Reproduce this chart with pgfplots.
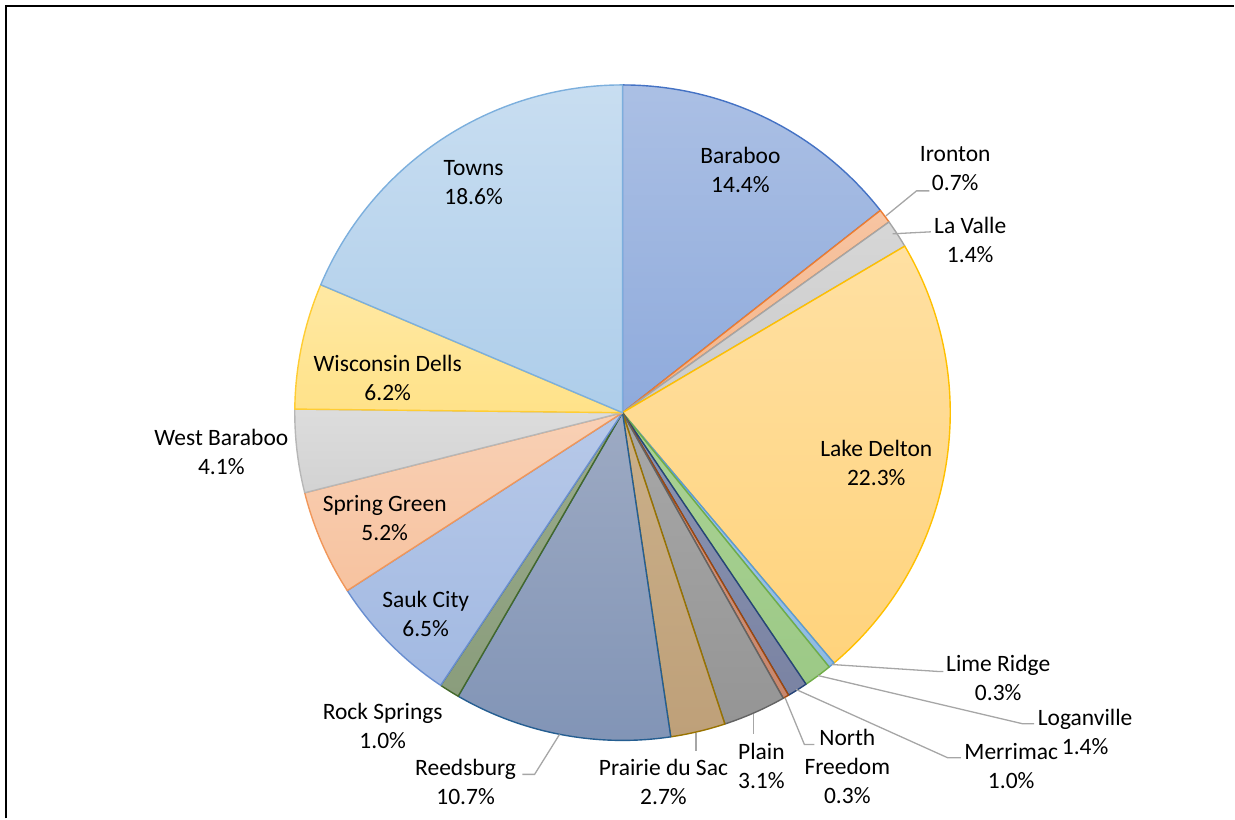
\documentclass[border=0pt]{standalone}
\usepackage{pgfplots}
\pgfplotsset{compat=1.18}
\usepackage{pgfplotstable}
\usepackage{fontspec}
\setmainfont{Carlito}
\definecolor{c1}{HTML}{4472C4}
\definecolor{c2}{HTML}{ED7D31}
\definecolor{c3}{HTML}{A5A5A5}
\definecolor{c4}{HTML}{FFC000}
\definecolor{c5}{HTML}{5B9BD5}
\definecolor{c6}{HTML}{70AD47}
\definecolor{c7}{HTML}{264478}
\definecolor{c8}{HTML}{9E480E}
\definecolor{c9}{HTML}{636363}
\definecolor{c10}{HTML}{997300}
\definecolor{c11}{HTML}{255E91}
\definecolor{c12}{HTML}{43682B}
\definecolor{c13}{HTML}{698ED0}
\definecolor{c14}{HTML}{F1975A}
\definecolor{c15}{HTML}{B7B7B7}
\definecolor{c16}{HTML}{FFCD33}
\definecolor{c17}{HTML}{7CAFDD}
\definecolor{leader}{HTML}{A6A6A6}
% gradient fills (top / bottom)
\colorlet{t1}{c1!45!white}\colorlet{b1}{c1!60!white}
\colorlet{t2}{c2!45!white}\colorlet{b2}{c2!58!white}
\colorlet{t3}{c3!45!white}\colorlet{b3}{c3!58!white}
\definecolor{t4}{HTML}{FFE0A2}\definecolor{b4}{HTML}{FFD37C}
\colorlet{t5}{c5!55!white}\colorlet{b5}{c5!68!white}
\definecolor{t6}{HTML}{AAD295}\definecolor{b6}{HTML}{9CC986}
\definecolor{t7}{HTML}{8C95B2}\definecolor{b7}{HTML}{7A83A3}
\definecolor{t8}{HTML}{D39A84}\definecolor{b8}{HTML}{C8876E}
\definecolor{t9}{HTML}{A8A8A8}\definecolor{b9}{HTML}{959595}
\definecolor{t10}{HTML}{CBB08A}\definecolor{b10}{HTML}{BEA079}
\definecolor{t11}{HTML}{9DAAC3}\definecolor{b11}{HTML}{8194B6}
\definecolor{t12}{HTML}{9AAB8C}\definecolor{b12}{HTML}{8A9D7C}
\colorlet{t13}{c13!48!white}\colorlet{b13}{c13!62!white}
\colorlet{t14}{c14!45!white}\colorlet{b14}{c14!58!white}
\colorlet{t15}{c15!48!white}\colorlet{b15}{c15!62!white}
\colorlet{t16}{c16!45!white}\colorlet{b16}{c16!58!white}
\colorlet{t17}{c17!42!white}\colorlet{b17}{c17!62!white}
\pgfplotstableread[col sep=comma]{
name,value
Baraboo,14.4
Ironton,0.7
La Valle,1.4
Lake Delton,22.3
Lime Ridge,0.3
Loganville,1.4
Merrimac,1.0
North Freedom,0.3
Plain,3.1
Prairie du Sac,2.7
Reedsburg,10.7
Rock Springs,1.0
Sauk City,6.5
Spring Green,5.2
West Baraboo,4.1
Wisconsin Dells,6.2
Towns,18.6
}\piedata
\newcommand\lab[4]{%
  \node[lbl] at (axis cs:#1,#2) {#3};
  \node[lbl] at (axis cs:#1,{#2+29}) {#4};}
\begin{document}
\begin{tikzpicture}[lbl/.style={anchor=base,inner sep=0pt,font=\fontsize{23.5}{29}\selectfont,text=black}]
\begin{axis}[x=1pt,y=1pt,xmin=0,xmax=1235,ymin=0,ymax=819,y dir=reverse,
  hide axis,clip=false,scale only axis]
\path (axis cs:0,0) rectangle (axis cs:1235,819);
% total
\pgfplotstablegetrowsof{\piedata}
\pgfmathtruncatemacro\nrows{\pgfplotsretval-1}
\def\total{0}
\pgfplotsforeachungrouped \i in {0,...,\nrows}{%
  \pgfplotstablegetelem{\i}{value}\of\piedata
  \pgfmathsetmacro\total{\total+\pgfplotsretval}}
\def\cum{0}
\pgfplotsforeachungrouped \i in {0,...,\nrows}{%
  \pgfplotstablegetelem{\i}{value}\of\piedata
  \let\val\pgfplotsretval
  \pgfmathsetmacro\sa{90-(\cum/\total)*360}%
  \pgfmathsetmacro\cum{\cum+\val}%
  \pgfmathsetmacro\ea{90-(\cum/\total)*360}%
  \pgfmathtruncatemacro\k{\i+1}%
  \edef\temp{\noexpand\shadedraw[top color=t\k, bottom color=b\k,
     draw=c\k, line width=1.4pt, line join=round]
     (axis cs:623,413) -- ++(\sa:328pt) arc[start angle=\sa, end angle=\ea, radius=328pt] -- cycle;}%
  \temp
}
% frame
\draw[line width=2pt,black] (axis cs:6,819) -- (axis cs:6,6) -- (axis cs:1235,6);
% leader lines
\begin{scope}[line width=1.3pt, draw=leader]
\draw (axis cs:886.7,216) -- (axis cs:917.3,191) -- (axis cs:930,191);
\draw (axis cs:893.3,234) -- (axis cs:931.7,232);
\draw (axis cs:832,665) -- (axis cs:939,672) -- (axis cs:944,672);
\draw (axis cs:818.3,676) -- (axis cs:1023.3,724.3) -- (axis cs:1035,724.3);
\draw (axis cs:796.7,690) -- (axis cs:948.3,758.3) -- (axis cs:961.7,758.3);
\draw (axis cs:785.7,698.3) -- (axis cs:805,745) -- (axis cs:815,745);
\draw (axis cs:754,715) -- (axis cs:754,735);
\draw (axis cs:696.7,733.3) -- (axis cs:696.7,751.7);
\draw (axis cs:560,735) -- (axis cs:535,775) -- (axis cs:522.7,775);
\end{scope}
% labels
\lab{741}{164}{Baraboo}{14.4\%}
\lab{956}{162}{Ironton}{0.7\%}
\lab{971}{234}{La Valle}{1.4\%}
\lab{877}{457}{Lake Delton}{22.3\%}
\lab{999}{672}{Lime Ridge}{0.3\%}
\lab{1086}{726}{Loganville}{1.4\%}
\lab{1012}{760}{Merrimac}{1.0\%}
\node[lbl] at (axis cs:848,746) {North};
\lab{848}{775}{Freedom}{0.3\%}
\lab{762}{760}{Plain}{3.1\%}
\lab{664}{776}{Prairie du Sac}{2.7\%}
\lab{466}{776}{Reedsburg}{10.7\%}
\lab{383}{720}{Rock Springs}{1.0\%}
\lab{426}{608}{Sauk City}{6.5\%}
\lab{385}{512}{Spring Green}{5.2\%}
\lab{221.5}{446}{West Baraboo}{4.1\%}
\lab{388}{372}{Wisconsin Dells}{6.2\%}
\lab{474}{176}{Towns}{18.6\%}
\end{axis}
\end{tikzpicture}
\end{document}
